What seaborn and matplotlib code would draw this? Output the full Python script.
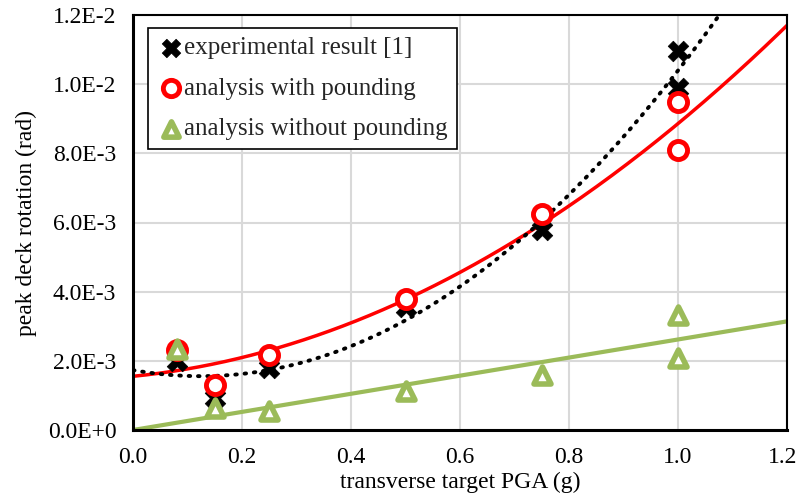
import numpy as np
import pandas as pd
import matplotlib
matplotlib.use("Agg")
import matplotlib.pyplot as plt
import matplotlib.transforms as mtransforms
import seaborn as sns

# data (rotation in rad)
exp_x = [0.08, 0.15, 0.25, 0.50, 0.75, 1.00, 1.00]
exp_y = [2.0e-3, 0.93e-3, 1.78e-3, 3.55e-3, 5.77e-3, 10.96e-3, 9.9e-3]
pnd_x = [0.08, 0.15, 0.25, 0.50, 0.75, 1.00, 1.00]
pnd_y = [2.3e-3, 1.3e-3, 2.17e-3, 3.8e-3, 6.24e-3, 9.48e-3, 8.09e-3]
nop_x = [0.08, 0.15, 0.25, 0.50, 0.75, 1.00, 1.00]
nop_y = [2.35e-3, 0.64e-3, 0.55e-3, 1.12e-3, 1.6e-3, 3.33e-3, 2.09e-3]
labels = ["experimental result [1]", "analysis with pounding", "analysis without pounding"]
x_ticks = [0.0, 0.2, 0.4, 0.6, 0.8, 1.0, 1.2]
y_ticks = [0.0, 2e-3, 4e-3, 6e-3, 8e-3, 1e-2, 1.2e-2]
y_tick_labels = ["0.0E+0", "2.0E-3", "4.0E-3", "6.0E-3", "8.0E-3", "1.0E-2", "1.2E-2"]

sns.set_style("whitegrid")
plt.rcParams['font.family'] = ['Liberation Serif', 'DejaVu Serif']
FS = 17

fig = plt.figure(figsize=(7.99, 5.0), dpi=100)
ax = fig.add_axes([133/799, 1-430/500, 654/799, 415/500])

xx = np.linspace(0, 1.2, 300)
# trendlines computed from data
c_exp = np.polyfit(exp_x, exp_y, 3)
c_pnd = np.polyfit(pnd_x, pnd_y, 2)
slope_nop = np.dot(nop_x, nop_y) / np.dot(nop_x, nop_x)

trend_exp = pd.DataFrame({"x": xx, "y": np.polyval(c_exp, xx)})
trend_pnd = pd.DataFrame({"x": xx, "y": np.polyval(c_pnd, xx)})
trend_nop = pd.DataFrame({"x": xx, "y": slope_nop * xx})

sns.lineplot(data=trend_nop, x="x", y="y", ax=ax, color="#9BBB59", lw=3, zorder=2)
sns.lineplot(data=trend_pnd, x="x", y="y", ax=ax, color="#FF0000", lw=2.5, zorder=2)
sns.lineplot(data=trend_exp, x="x", y="y", ax=ax, color="black", lw=2.8,
             linestyle=(0, (0.4, 2.0)), dash_capstyle="round", zorder=2)

sns.scatterplot(x=exp_x, y=exp_y, ax=ax, marker="X", s=220, color="black",
                edgecolor="black", linewidth=0.5, zorder=3, label=labels[0])
sns.scatterplot(x=pnd_x, y=pnd_y, ax=ax, marker="o", s=170, facecolor="white",
                edgecolor="#FF0000", linewidth=3.5, zorder=4, label=labels[1])
sns.scatterplot(x=nop_x, y=nop_y, ax=ax, marker="^", s=150, facecolor="white",
                edgecolor="#9BBB59", linewidth=4, zorder=4, label=labels[2])

ax.set_xlim(0, 1.2)
ax.set_ylim(0, 0.012)
ax.set_xticks(x_ticks)
ax.set_xticklabels([f"{v:.1f}" for v in x_ticks])
ax.set_yticks(y_ticks)
ax.set_yticklabels(y_tick_labels)
ax.tick_params(axis="x", labelsize=FS, colors="black", length=0, pad=12)
ax.tick_params(axis="y", labelsize=FS, colors="black", length=0, pad=12)
# nudge the last x tick label inside the canvas
last = ax.get_xticklabels()[-1]
last.set_transform(last.get_transform() +
                   mtransforms.ScaledTranslation(-3/72, 0, fig.dpi_scale_trans))
ax.grid(True, color="#D9D9D9", lw=1.5)
ax.set_xlabel("transverse target PGA (g)", fontsize=FS, color="black", labelpad=3)
ax.set_ylabel("peak deck rotation (rad)", fontsize=FS, color="black", labelpad=8)

for s in ["top", "right"]:
    ax.spines[s].set_visible(True)
    ax.spines[s].set_color("black")
    ax.spines[s].set_linewidth(1.5)
for s in ["left", "bottom"]:
    ax.spines[s].set_visible(True)
    ax.spines[s].set_color("black")
    ax.spines[s].set_linewidth(2.2)

leg = ax.legend(loc="upper left", bbox_to_anchor=(15/654, 1-13/415), fontsize=18,
                frameon=True, fancybox=False, handletextpad=0.0, borderpad=0.35,
                labelspacing=0.72, handlelength=1.1, borderaxespad=0,
                markerscale=0.9)
leg.get_frame().set_edgecolor("black")
leg.get_frame().set_linewidth(1.2)
leg.get_frame().set_alpha(1)

fig.savefig("out.png", dpi=100)
